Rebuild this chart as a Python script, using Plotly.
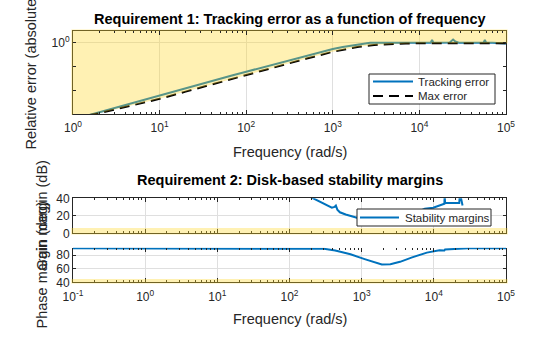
import math
import plotly.graph_objects as go

# ---------------- data ----------------
# Requirement 1: tracking error vs frequency
freq_track = [1.0, 1.5, 2, 3, 5, 7, 10, 20, 30, 50, 70, 100, 200, 300, 500, 700,
              1000, 1300, 1600, 1900, 2200, 2700, 3000, 4000, 5000, 7000, 10000,
              12000, 13500, 14000, 14500, 16000, 20000, 22400, 24500, 26000, 28600,
              35000, 50000, 55000, 57000, 59000, 70000, 85000, 100000]
track_err = [6.3e-4, 9.5e-4, 1.26e-3, 1.9e-3, 3.15e-3, 4.4e-3, 6.3e-3, 0.0126, 0.019,
             0.031, 0.044, 0.062, 0.12, 0.18, 0.28, 0.38,
             0.55, 0.66, 0.75, 0.85, 0.93, 0.99, 1.0, 1.0, 1.0, 1.0, 1.0,
             1.0, 1.0, 1.3, 1.0, 1.0, 1.0, 1.02, 1.36, 1.12, 1.01,
             1.0, 1.0, 1.0, 1.3, 1.0, 1.0, 0.96, 0.92]

freq_max = [1.0, 1.5, 2, 5, 10, 20, 50, 100, 200, 500, 1000, 1500, 2000, 3000, 4000,
            5000, 7000, 10000, 100000]
max_err = [6.5e-4, 9.5e-4, 1.15e-3, 2.5e-3, 4.6e-3, 9.2e-3, 0.023, 0.046, 0.091, 0.22,
           0.42, 0.57, 0.68, 0.81, 0.87, 0.91, 0.935, 0.945, 0.945]

# Requirement 2: disk-based stability margins
gm_freq = [190, 250, 300, 386, 420, 439, 460, 499, 600, 859, 1200, 1800, 2500, 3500,
           5000, 7500, 9800, 12000, 14000, 14150, 14300, 18000, 22500, 23000, 25000]
gm_db = [42, 37, 34, 29.3, 30.2, 31.8, 27, 24.0, 21.5, 17.8, 15.5, 14, 14.5, 17,
         21.5, 28, 29.2, 31.5, 33.8, 46, 34.6, 34.6, 34.6, 46, 31.8]

pm_freq = [0.1, 1, 10, 100, 200, 300, 430, 700, 1100, 1500, 1900, 2500, 3400, 5000,
           8000, 12000, 13800, 14000, 14300, 18000, 25000, 30000, 100000]
pm_deg = [90, 90, 90, 90, 89.8, 89, 86.5, 81, 74, 69.5, 66, 66.5, 70, 76.5,
          83.5, 86.9, 87.6, 86.6, 88, 88.6, 89.3, 90, 90]

gm_req = 6    # dB
pm_req = 45   # deg

x1_ticks = [1, 10, 100, 1000, 10000, 100000]
x1_text = ["10<sup>0</sup>", "10<sup>1</sup>", "10<sup>2</sup>", "10<sup>3</sup>",
           "10<sup>4</sup>", "10<sup>5</sup>"]
x2_ticks = [0.1, 1, 10, 100, 1000, 10000, 100000]
x2_text = ["10<sup>-1</sup>", "10<sup>0</sup>", "10<sup>1</sup>", "10<sup>2</sup>",
           "10<sup>3</sup>", "10<sup>4</sup>", "10<sup>5</sup>"]

# ---------------- styling ----------------
W, H = 560, 337
FONT = "Liberation Sans, Arial, sans-serif"
AX = "#262626"
GRID = "#DFDFDF"
BLUE = "#0072BD"
FILL = "rgba(255,215,38,0.35)"


def px(x):
    return x / W


def py(y):
    return 1 - y / H


def minors(lo, hi):
    out = []
    for k in range(lo, hi):
        for m in range(2, 10):
            out.append(m * 10 ** k)
    return out


fig = go.Figure()

# --- top plot ---
fig.add_trace(go.Scatter(x=freq_track, y=track_err, mode="lines", name="Tracking error",
                         line=dict(color=BLUE, width=2), xaxis="x", yaxis="y",
                         showlegend=False))
fig.add_trace(go.Scatter(x=freq_max, y=max_err, mode="lines", name="Max error",
                         line=dict(color="black", width=2, dash="10px,6px"),
                         xaxis="x", yaxis="y", showlegend=False))
fill_top = [10.0] * len(freq_max)
fig.add_trace(go.Scatter(x=freq_max + freq_max[::-1], y=max_err + fill_top[::-1],
                         mode="lines", fill="toself", fillcolor=FILL,
                         line=dict(color="rgba(0,0,0,0)", width=0),
                         xaxis="x", yaxis="y", showlegend=False, hoverinfo="skip"))

# --- gain margin ---
fig.add_trace(go.Scatter(x=gm_freq, y=gm_db, mode="lines", name="Stability margins",
                         line=dict(color=BLUE, width=2), xaxis="x2", yaxis="y2",
                         showlegend=False))
# --- phase margin ---
fig.add_trace(go.Scatter(x=pm_freq, y=pm_deg, mode="lines", name="Stability margins",
                         line=dict(color=BLUE, width=2), xaxis="x3", yaxis="y3",
                         showlegend=False))
# invisible helper so the top-tick overlay axis of the phase plot is drawn
fig.add_trace(go.Scatter(x=[1], y=[60], mode="markers", marker=dict(opacity=0),
                         xaxis="x4", yaxis="y3", showlegend=False, hoverinfo="skip"))

xdom = [px(73), px(506)]
d_top = [py(114), py(31)]
d_gain = [py(233.3), py(198.3)]
d_phase = [py(282.3), py(247.7)]

tickfont = dict(family=FONT, size=12, color=AX)
common_x = dict(type="log", ticks="inside", ticklen=4, tickcolor=AX, showline=True,
                linecolor=AX, linewidth=1, showgrid=True, gridcolor=GRID, zeroline=False,
                tickfont=tickfont, tickmode="array", automargin=False)
common_y = dict(ticks="inside", ticklen=3, tickcolor=AX, showline=True, linecolor=AX,
                linewidth=1, mirror="ticks", showgrid=True, gridcolor=GRID,
                zeroline=False, tickfont=tickfont, tickmode="array", automargin=False)

fig.update_layout(
    width=W, height=H, margin=dict(l=0, r=0, t=0, b=0, autoexpand=False),
    paper_bgcolor="white", plot_bgcolor="white", showlegend=False,
    xaxis=dict(common_x, domain=xdom, range=[0, 5], anchor="y", mirror="ticks",
               tickvals=x1_ticks, ticktext=x1_text, ticklabelstandoff=3,
               minor=dict(tickmode="array", tickvals=minors(0, 5), ticks="inside",
                          ticklen=2, tickcolor=AX, showgrid=False)),
    yaxis=dict(common_y, type="log", domain=d_top, range=[-2.97, 0.49], anchor="x",
               tickvals=[1], ticktext=["10<sup>0</sup>"],
               minor=dict(tickmode="array", tickvals=[0.01, 0.1], ticks="inside",
                          ticklen=3, tickcolor=AX, showgrid=False)),
    xaxis2=dict(common_x, domain=xdom, range=[-1, 5], anchor="y2", mirror="ticks",
                tickvals=x2_ticks, showticklabels=False,
                minor=dict(tickmode="array", tickvals=minors(-1, 5), ticks="inside",
                           ticklen=2, tickcolor=AX, showgrid=False)),
    yaxis2=dict(common_y, domain=d_gain, range=[0, 40], anchor="x2",
                tickvals=[0, 20, 40]),
    xaxis3=dict(common_x, domain=xdom, range=[-1, 5], anchor="y3", mirror=False,
                tickvals=x2_ticks, ticktext=x2_text, ticklabelstandoff=3,
                minor=dict(tickmode="array", tickvals=minors(-1, 5), ticks="inside",
                           ticklen=2, tickcolor=AX, showgrid=False)),
    xaxis4=dict(type="log", overlaying="x3", anchor="y3", side="top", range=[-1, 5],
                ticks="inside", ticklen=4, tickcolor=AX, showline=False,
                showgrid=False, zeroline=False, showticklabels=False, tickmode="array",
                tickvals=x2_ticks, automargin=False,
                minor=dict(tickmode="array", tickvals=minors(-1, 5), ticks="inside",
                           ticklen=2, tickcolor=AX, showgrid=False)),
    yaxis3=dict(common_y, domain=d_phase, range=[40, 90.7], anchor="x3",
                tickvals=[40, 60, 80]),
)

# requirement bands (violation regions) drawn over the axes, like the reference
shapes = [
    dict(type="rect", xref="x2 domain", yref="y2 domain", x0=-0.004, x1=1.004,
         y0=-0.035, y1=gm_req / 40, fillcolor=FILL, line=dict(width=0), layer="above"),
    dict(type="rect", xref="x3 domain", yref="y3 domain", x0=-0.004, x1=1.004,
         y0=-0.035, y1=(pm_req - 40) / 50.7, fillcolor=FILL, line=dict(width=0),
         layer="above"),
    # tint the top-plot border lines that lie inside the shaded region
    dict(type="rect", xref="x domain", yref="y domain", x0=0, x1=1, y0=1.0,
         y1=1.0 + 1.6 / 83, fillcolor=FILL, line=dict(width=0), layer="above"),
    dict(type="rect", xref="x domain", yref="y domain", x0=-1.6 / 433, x1=0,
         y0=-0.01, y1=1.0 + 1.6 / 83, fillcolor=FILL, line=dict(width=0), layer="above"),
]
ylo, yhi = -2.97, 0.49
right_y0 = (math.log10(max_err[-1]) - ylo) / (yhi - ylo)
shapes.append(dict(type="rect", xref="x domain", yref="y domain", x0=1, x1=1 + 1.6 / 433,
                   y0=right_y0, y1=1.0 + 1.6 / 83, fillcolor=FILL, line=dict(width=0),
                   layer="above"))

# legends (drawn manually to match compact MATLAB legend boxes)
shapes += [
    dict(type="rect", xref="paper", yref="paper", x0=px(369), x1=px(495), y0=py(104),
         y1=py(74), line=dict(color=AX, width=1), fillcolor="white", layer="above"),
    dict(type="line", xref="paper", yref="paper", x0=px(373), x1=px(413), y0=py(81.5),
         y1=py(81.5), line=dict(color=BLUE, width=2), layer="above"),
    dict(type="line", xref="paper", yref="paper", x0=px(373), x1=px(413), y0=py(96),
         y1=py(96), line=dict(color="black", width=2, dash="10px,6px"), layer="above"),
    dict(type="rect", xref="paper", yref="paper", x0=px(357), x1=px(491), y0=py(226),
         y1=py(209), line=dict(color=AX, width=1), fillcolor="white", layer="above"),
    dict(type="line", xref="paper", yref="paper", x0=px(360), x1=px(399), y0=py(217.5),
         y1=py(217.5), line=dict(color=BLUE, width=2), layer="above"),
]
fig.update_layout(shapes=shapes)

ann = []


def text(s, x, y, size, bold=False, angle=0, xanchor="center"):
    ann.append(dict(text=("<b>%s</b>" % s) if bold else s, x=px(x), y=py(y),
                    xref="paper", yref="paper", showarrow=False, textangle=angle,
                    xanchor=xanchor, yanchor="middle",
                    font=dict(family=FONT, size=size, color=AX if not bold else "black")))


text("Requirement 1: Tracking error as a function of frequency", 289.5, 19.5, 14.5, bold=True)
text("Frequency (rad/s)", 289.5, 152, 14.5)
text("Relative error (absolute)", 30.5, 72, 14.5, angle=-90)
text("Requirement 2: Disk-based stability margins", 289.5, 180, 14.5, bold=True)
text("Gain margin (dB)", 41.5, 216, 14.5, angle=-90)
text("Phase margin (deg)", 41.5, 265, 14.5, angle=-90)
text("Frequency (rad/s)", 289.5, 319, 14.5)
text("Tracking error", 416, 82, 11.5, xanchor="left")
text("Max error", 416, 96.5, 11.5, xanchor="left")
text("Stability margins", 403, 217.5, 11.5, xanchor="left")
fig.update_layout(annotations=ann)

fig.write_html("out.html")
